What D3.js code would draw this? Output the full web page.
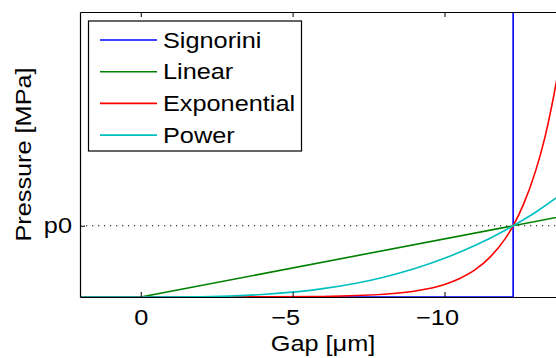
<!DOCTYPE html>
<html>
<head>
<meta charset="utf-8">
<script src="https://cdn.jsdelivr.net/npm/d3@7"></script>
<style>
  body { margin: 0; background: #fff; }
  svg { display: block; font-family: "Liberation Sans", Arial, sans-serif; }
</style>
</head>
<body>
<svg id="chart" width="556" height="358"></svg>
<script>
// ---- data (gap in um, pressure in units of p0) ----
var seriesNames = ['Signorini', 'Linear', 'Exponential', 'Power'];
var seriesColors = ['#0000ff', '#008000', '#ff0000', '#00bfbf'];

var signoriniGap = [2, -12.26, -12.26];
var signoriniP   = [0, 0, 4];

var linearGap = [2, 0, -14];
var linearP   = [0, 0, 1.142];

var expGap = [2, 0, -2, -4, -6, -8, -9, -10, -10.5, -11, -11.5, -12, -12.26, -12.6, -13, -13.3, -13.6, -14];
var expP   = [0, 0, 0.0004, 0.0017, 0.008, 0.038, 0.081, 0.175, 0.26, 0.38, 0.56, 0.82, 1.0, 1.3, 1.77, 2.23, 2.83, 3.8];

var powerGap = [2, 0, -2, -4, -6, -8, -9, -10, -11, -12, -12.26, -13, -14];
var powerP   = [0, 0, 0.004, 0.035, 0.117, 0.278, 0.396, 0.543, 0.722, 0.937, 1.0, 1.19, 1.49];

var xTicks = [0, -5, -10];
var yTickVal = 1;
var yTickLabel = 'p0';
// -------------------------------------------------------------------------

var svg = d3.select('#chart');
var pL = 80, pR = 566, pT = 12, pB = 297;
var fs = '22px', stretch = 'scale(1.15,1)';

var x = d3.scaleLinear().domain([2, -14]).range([pL, pR]);
var y = d3.scaleLinear().domain([0, 4]).range([pB, pT]);

var zip = function (gs, ps) { return gs.map(function (g, i) { return [g, ps[i]]; }); };
var allSeries = [
  { pts: zip(signoriniGap, signoriniP), curve: d3.curveLinear },
  { pts: zip(linearGap, linearP), curve: d3.curveLinear },
  { pts: zip(expGap, expP), curve: d3.curveMonotoneX },
  { pts: zip(powerGap, powerP), curve: d3.curveMonotoneX }
];

svg.append('clipPath').attr('id', 'clip')
  .append('rect').attr('x', pL).attr('y', pT).attr('width', pR - pL).attr('height', pB - pT);

// dotted p0 reference
svg.append('line')
  .attr('x1', pL).attr('x2', pR)
  .attr('y1', y(yTickVal)).attr('y2', y(yTickVal))
  .attr('stroke', '#000').attr('stroke-width', 1.2)
  .attr('stroke-dasharray', '1.2,4.8');

var plot = svg.append('g').attr('clip-path', 'url(#clip)');
allSeries.forEach(function (s, i) {
  var line = d3.line().x(function (d) { return x(d[0]); }).y(function (d) { return y(d[1]); }).curve(s.curve);
  plot.append('path').datum(s.pts)
    .attr('d', line)
    .attr('fill', 'none')
    .attr('stroke', seriesColors[i])
    .attr('stroke-width', 1.6);
});

// axes (ticks inward, matlab style)
var xAxisB = d3.axisBottom(x).tickValues(xTicks).tickSizeInner(-5).tickSizeOuter(0)
  .tickFormat(function (d) { return d === 0 ? '0' : '\u2212' + Math.abs(d); }).tickPadding(12);
var gB = svg.append('g').attr('transform', 'translate(0,' + pB + ')').call(xAxisB);
var xAxisT = d3.axisTop(x).tickValues(xTicks).tickSizeInner(-5).tickSizeOuter(0).tickFormat('');
var gT = svg.append('g').attr('transform', 'translate(0,' + pT + ')').call(xAxisT);
var yAxisL = d3.axisLeft(y).tickValues([yTickVal]).tickSizeInner(-5).tickSizeOuter(0)
  .tickFormat(function () { return yTickLabel; }).tickPadding(8);
var gL = svg.append('g').attr('transform', 'translate(' + pL + ',0)').call(yAxisL);

[gB, gT, gL].forEach(function (g) {
  g.select('.domain').attr('stroke', '#000').attr('stroke-width', 1.2);
  g.selectAll('.tick line').attr('stroke', '#000').attr('stroke-width', 1);
  g.selectAll('.tick text').attr('fill', '#000').style('font-size', fs)
    .style('font-family', '"Liberation Sans", Arial, sans-serif');
});
// negative labels sit a little left of their tick in the original
gB.selectAll('.tick text').attr('transform', stretch)
  .attr('dx', function (d) { return d < 0 ? -6.5 : 0; });
gL.selectAll('.tick text').each(function () {
  var t = d3.select(this);
  t.attr('transform', 'translate(' + t.attr('x') + ',0) ' + stretch).attr('x', 0);
});

// axis labels
svg.append('text').attr('transform', 'translate(' + ((pL + pR) / 2) + ',351) ' + stretch)
  .attr('text-anchor', 'middle').style('font-size', fs).text('Gap [\u03bcm]');
svg.append('text')
  .attr('transform', 'translate(31,' + ((pT + pB) / 2) + ') rotate(-90) ' + stretch)
  .attr('text-anchor', 'middle').style('font-size', fs).text('Pressure [MPa]');

// legend
var lg = svg.append('g');
lg.append('rect').attr('x', 88.5).attr('y', 21).attr('width', 213).attr('height', 130)
  .attr('fill', '#fff').attr('stroke', '#000').attr('stroke-width', 1.2);
seriesNames.forEach(function (name, i) {
  var cy = 40 + i * 31.7;
  lg.append('line').attr('x1', 100).attr('x2', 157).attr('y1', cy).attr('y2', cy)
    .attr('stroke', seriesColors[i]).attr('stroke-width', 1.6);
  lg.append('text').attr('transform', 'translate(163,' + cy + ') ' + stretch).attr('dy', '0.35em')
    .style('font-size', fs).text(name);
});
</script>
</body>
</html>
